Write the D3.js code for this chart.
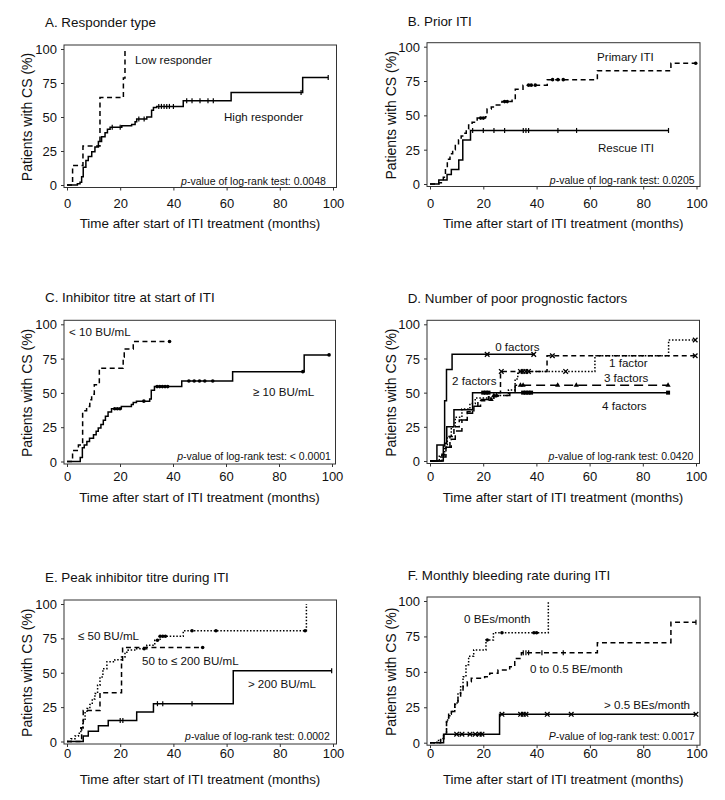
<!DOCTYPE html>
<html><head><meta charset="utf-8">
<script src="https://cdn.jsdelivr.net/npm/d3@7"></script>
<style>
body{margin:0;background:#fff}
svg{display:block}
text{font-family:"Liberation Sans",Arial,Helvetica,sans-serif;fill:#111}
</style>
</head><body><svg id="c" width="725" height="800"></svg>
<script>
// ---------- axis ticks ----------
const xTicks = [0, 20, 40, 60, 80, 100];
const yTicks = [0, 25, 50, 75, 100];

// ---------- A. Responder type ----------
const aHigh = [[0,0],[3.9,1],[4.9,2],[5.5,6],[6.1,13],[7.1,18],[8,21],[9.3,24.5],[10.5,28],[11.8,32],[13,35.5],[14.3,38.5],[15.2,41],[16.2,42.5],[20.6,43.5],[24.3,44.5],[25.6,46.5],[26.2,48.5],[30,50],[31.8,55],[32.5,57],[33.7,57.8],[43.7,62],[61.7,68],[88.6,79]];
const aHighEnd = 98.2;
const aHighCens = [17,20,27,29,34.5,35.5,36.5,37.5,38.5,40,45,47,50,53,55,88,98.2];
const aLow = [[0,0],[2.1,14.3],[6,28.6],[12.4,64.3],[21.2,78.6],[21.8,100]];
const aLowEnd = 21.8;
const aLowCens = [];

// ---------- B. Prior ITI ----------
const bPrimary = [[0,0],[3.3,1],[5,5],[5.8,12],[6.5,18],[7.5,22],[8.5,25],[9.5,28],[10.7,32],[11.7,35],[12.7,37],[13.6,40],[14.5,43],[15.8,45],[17.7,48],[20.8,49],[21.4,54.6],[23,56],[24.5,57.5],[27,60],[30.8,61.5],[32,69],[34.9,72],[44,76],[62.8,82.5],[90.4,88]];
const bPrimaryEnd = 99.7;
const bPrimaryCens = [19,20,28,29,37,38,39.5,46,48,50,99.7];
const bRescue = [[0,0],[3.3,3],[6.4,7],[8,10.5],[10.8,17.5],[12.3,32],[15.2,39]];
const bRescueEnd = 89.5;
const bRescueCens = [16,20,24,28,35,36,37,48,55,89.5];

// ---------- C. Inhibitor titre at start ----------
const cHigh = [[0,0],[5,3],[5.8,10],[6.5,12],[7.5,14.5],[8.5,17],[10,19.5],[11,22],[11.8,24.5],[12.8,27],[13.7,30],[14.5,33],[15.5,36],[16.8,38.5],[20.5,40],[24.3,41.5],[25,43],[26.2,44],[31.2,45.5],[31.8,52],[33,54.6],[43.3,58.7],[62.5,65.5],[89.5,77.7]];
const cHighEnd = 98.9;
const cHighCens = [18,19,20,29,34,35,36,37,38,46,48,50,52,55,89,98.9];
const cLow = [[0,0],[2.1,8],[4.3,12],[5.9,37],[7.4,40],[8.6,45],[9.3,49],[10.3,56],[12.2,68],[21.2,76],[21.6,82],[25,87.5]];
const cLowEnd = 38.7;
const cLowCens = [38.7];

// ---------- D. Number of poor prognostic factors ----------
const dF0 = [[0,0],[5,11],[5.5,44],[6.2,67],[8.3,78]];
const dF0End = 39;
const dF0Cens = [21.5,39];
const dF1 = [[0,0],[3.5,4],[5.5,10],[6.5,18],[8,25],[9.5,32],[12,38],[15,42],[17,46],[24,48],[29.5,52],[32,60],[33,65.5],[62,77],[89.7,88.5]];
const dF1End = 99.7;
const dF1Cens = [51,99.7];
const dF2 = [[0,0],[4.5,5],[6,10],[7.5,18],[9,25],[11,30],[14,36],[16.5,40],[19,44],[22,47],[25,50],[26.5,65.5],[44,77]];
const dF2End = 99.7;
const dF2Cens = [26.8,34,35,36,37,46,99.7];
const dF3 = [[0,0],[4,3],[6,10],[8,16],[9.5,22],[12,30],[14,35],[16,40],[18,45],[24,48],[30,50],[32,55.5]];
const dF3End = 89.5;
const dF3Cens = [23,24,25,34,35,48,55,89.5];
const dF4 = [[0,0],[2.6,11.7],[5.5,13],[6.3,25],[9,37.5],[16,50]];
const dF4End = 89.5;
const dF4Cens = [20,21,22,35,36,37,38,89.5];

// ---------- E. Peak inhibitor titre ----------
const eLow = [[0,0],[1.5,2],[3,4],[4.3,6],[5.2,10],[6,15],[6.8,22],[7.5,24],[8.6,27],[9.5,31],[10.5,35],[11.5,41],[12.4,47],[13.5,53],[15,58],[18,59.5],[20.5,61.5],[21.8,65],[23,66.5],[26.2,67.5],[30,70],[33,73.6],[35,76.5],[43.7,80.5],[90,100]];
const eLowEnd = 90;
const eLowCens = [29,34,35,36,37,47,56,89.5];
const eMid = [[0,0],[5.5,10],[6.1,22.6],[12.4,35.5],[20.5,58],[20.9,68.4]];
const eMidEnd = 51;
const eMidCens = [51];
const eHigh = [[0,0],[6.1,4],[8,7.5],[11.8,11.5],[15.5,15.2],[26.2,21.5],[32.5,27.5],[62.5,51.5]];
const eHighEnd = 99.5;
const eHighCens = [20,21,34,36,47,99.5];

// ---------- F. Monthly bleeding rate ----------
const f0 = [[0,0],[2.6,1.5],[4,3],[5.1,6],[6.2,16],[7,20],[8,22],[9.3,28],[10.5,35],[11.5,40],[12.4,46.6],[13.5,55],[14.5,61],[16.4,65.5],[21,72.5],[23.8,77.6],[44.4,100]];
const f0End = 44.4;
const f0Cens = [21.5,27,39,40];
const f05 = [[0,0],[4,2],[5.2,6],[6.2,15],[7,19],[8,22],[9.3,27],[10.5,32],[11.5,36],[12.4,39.5],[14,43],[15.5,45.4],[20.5,46.6],[22.4,49],[25.5,51.3],[29.9,53.6],[31.8,59.5],[34.3,63.5],[62.8,70.6],[90.4,85]];
const f05End = 99.8;
const f05Cens = [35,36,37,42,50,99.8];
const fHigh = [[0,0],[5.1,6],[26.1,20]];
const fHighEnd = 99.8;
const fHighCens = [10,12,15,17,18.5,19.5,27,34,35,36,44,53,99.8];

// ---------- texts ----------
const titles = ["A. Responder type","B. Prior ITI","C. Inhibitor titre at start of ITI","D. Number of poor prognostic factors","E. Peak inhibitor titre during ITI","F. Monthly bleeding rate during ITI"];
const pValues = ["0.0048","0.0205","< 0.0001","0.0420","0.0002","0.0017"];
const yTitle = "Patients with CS (%)";
const xTitle = "Time after start of ITI treatment (months)";

// ---------- layout (pixels) ----------
const panels = [
  {x0:67, x100:333, y100:49, y0:185, tickY:203, xtY:223, headX:45, headY:22, ytX:27, pX:97.3, pY:3, pCap:false,
   series:[{s:aHigh,e:aHighEnd,c:aHighCens,dash:null,m:"tick"},{s:aLow,e:aLowEnd,c:aLowCens,dash:"5,3.5",m:"tick"}],
   labels:[["Low responder",25.6,91.9],["High responder",59,50]]},
  {x0:430, x100:696.5, y100:46.7, y0:184, tickY:203, xtY:223, headX:407.7, headY:21, ytX:391, pX:99.3, pY:2.5, pCap:false,
   series:[{s:bPrimary,e:bPrimaryEnd,c:bPrimaryCens,dash:"5,3.5",m:"dot"},{s:bRescue,e:bRescueEnd,c:bRescueCens,dash:null,m:"tick"}],
   labels:[["Primary ITI",62.7,92.5],["Rescue ITI",63,26.2]]},
  {x0:67, x100:332, y100:324.3, y0:461.5, tickY:476.5, xtY:497, headX:45, headY:297.5, ytX:27, pX:99.6, pY:3.5, pCap:false,
   series:[{s:cHigh,e:cHighEnd,c:cHighCens,dash:null,m:"dot"},{s:cLow,e:cLowEnd,c:cLowCens,dash:"5,3.5",m:"dot"}],
   labels:[["< 10 BU/mL",0.8,94.4],["\u2265 10 BU/mL",70.2,50.7]]},
  {x0:430, x100:696, y100:324.3, y0:461, tickY:476.5, xtY:497, headX:407.7, headY:298.5, ytX:391, pX:99, pY:3.5, pCap:false,
   series:[{s:dF0,e:dF0End,c:dF0Cens,dash:null,m:"x"},{s:dF1,e:dF1End,c:dF1Cens,dash:"1.5,1.8",m:"x"},{s:dF2,e:dF2End,c:dF2Cens,dash:"5,3.5",m:"x"},{s:dF3,e:dF3End,c:dF3Cens,dash:"9,5",m:"tri"},{s:dF4,e:dF4End,c:dF4Cens,dash:null,m:"sq"}],
   labels:[["0 factors",24.5,83.6],["1 factor",67.3,71.7],["2 factors",8.3,58.5],["3 factors",65.4,60.7],["4 factors",64.7,40.2]]},
  {x0:67, x100:333, y100:604, y0:741.5, tickY:753.5, xtY:779, headX:45, headY:577, ytX:27, pX:98.8, pY:4, pCap:false,
   series:[{s:eLow,e:eLowEnd,c:eLowCens,dash:"1.5,1.8",m:"dot"},{s:eMid,e:eMidEnd,c:eMidCens,dash:"5,3.5",m:"dot"},{s:eHigh,e:eHighEnd,c:eHighCens,dash:null,m:"tick"}],
   labels:[["\u2264 50 BU/mL",4.1,76.7],["50 to \u2264 200 BU/mL",28.2,58.5],["> 200 BU/mL",68,41.8]]},
  {x0:430, x100:696.5, y100:601, y0:742.7, tickY:753.5, xtY:779, headX:407.7, headY:575, ytX:391, pX:99.3, pY:4.2, pCap:true,
   series:[{s:f0,e:f0End,c:f0Cens,dash:"1.5,1.8",m:"dot"},{s:f05,e:f05End,c:f05Cens,dash:"5,3.5",m:"tick"},{s:fHigh,e:fHighEnd,c:fHighCens,dash:null,m:"x"}],
   labels:[["0 BEs/month",12.8,87.3],["0 to 0.5 BE/month",37.5,52],["> 0.5 BEs/month",65.3,26.6]]}
];

const svg = d3.select("#c");

function stepValue(steps, t){
  let v = 0;
  for (const s of steps){ if (s[0] <= t) v = s[1]; }
  return v;
}

function drawMarker(g, type, cx, cy){
  if (type === "dot"){
    g.append("circle").attr("cx",cx).attr("cy",cy).attr("r",1.8).attr("fill","#000");
  } else if (type === "tick"){
    g.append("line").attr("x1",cx).attr("x2",cx).attr("y1",cy-2.5).attr("y2",cy+2.5).attr("stroke","#000").attr("stroke-width",1.2);
  } else if (type === "x"){
    g.append("path").attr("d",`M${cx-2.3},${cy-2.3}L${cx+2.3},${cy+2.3}M${cx-2.3},${cy+2.3}L${cx+2.3},${cy-2.3}`).attr("stroke","#000").attr("stroke-width",1.3);
  } else if (type === "tri"){
    g.append("path").attr("d",`M${cx},${cy-3}L${cx+2.6},${cy+1.6}L${cx-2.6},${cy+1.6}Z`).attr("fill","#000");
  } else if (type === "sq"){
    g.append("rect").attr("x",cx-2).attr("y",cy-2).attr("width",4).attr("height",4).attr("fill","#000");
  }
}

panels.forEach((p, i) => {
  const g = svg.append("g");
  const x = d3.scaleLinear().domain([0,100]).range([p.x0,p.x100]);
  const y = d3.scaleLinear().domain([0,100]).range([p.y0,p.y100]);
  const bl = p.x0 - 3, br = p.x100 + 3.5, bt = p.y100 - 4, bb = p.y0 + 2.5;

  g.append("rect").attr("x",bl).attr("y",bt).attr("width",br-bl).attr("height",bb-bt)
    .attr("fill","none").attr("stroke","#333").attr("stroke-width",1);

  const xa = g.append("g").attr("transform",`translate(0,${bb})`).attr("color","#333")
    .call(d3.axisBottom(x).tickValues(xTicks).tickSize(3).tickFormat(d3.format("d")));
  xa.select(".domain").remove();
  xa.selectAll("text").attr("y", p.tickY - bb).attr("dy","0.35em").style("font-size","13px");

  const ya = g.append("g").attr("transform",`translate(${bl},0)`).attr("color","#333")
    .call(d3.axisLeft(y).tickValues(yTicks).tickSize(3).tickPadding(4).tickFormat(d3.format("d")));
  ya.select(".domain").remove();
  ya.selectAll("text").attr("dy","0.35em").style("font-size","13px");

  g.append("text").attr("x",p.headX).attr("y",p.headY).attr("dy","0.35em")
    .style("font-size","13.4px").text(titles[i]);
  g.append("text").attr("x",(p.x0+p.x100)/2).attr("y",p.xtY).attr("dy","0.35em")
    .attr("text-anchor","middle").style("font-size","13.4px").text(xTitle);
  g.append("text").attr("transform",`translate(${p.ytX},${(p.y0+p.y100)/2}) rotate(-90)`)
    .attr("dy","0.35em").attr("text-anchor","middle").style("font-size","14px").text(yTitle);

  const line = d3.line().x(d => x(d[0])).y(d => y(d[1])).curve(d3.curveStepAfter);
  p.series.forEach(sr => {
    const pts = sr.s.concat([[sr.e, sr.s[sr.s.length-1][1]]]);
    g.append("path").datum(pts).attr("d", line)
      .attr("fill","none").attr("stroke","#000").attr("stroke-width",1.5)
      .attr("stroke-dasharray", sr.dash);
    sr.c.forEach(t => drawMarker(g, sr.m, x(t), y(stepValue(sr.s, t))));
  });

  p.labels.forEach(l => {
    g.append("text").attr("x", x(l[1])).attr("y", y(l[2])).attr("dy","0.35em")
      .style("font-size","11.6px").text(l[0]);
  });

  const pt = g.append("text").attr("x", x(p.pX)).attr("y", y(p.pY)).attr("dy","0.35em")
    .attr("text-anchor","end").style("font-size","10.5px");
  pt.append("tspan").style("font-style","italic").text(p.pCap ? "P" : "p");
  pt.append("tspan").text("-value of log-rank test: " + pValues[i]);
});
</script>
</body></html>
